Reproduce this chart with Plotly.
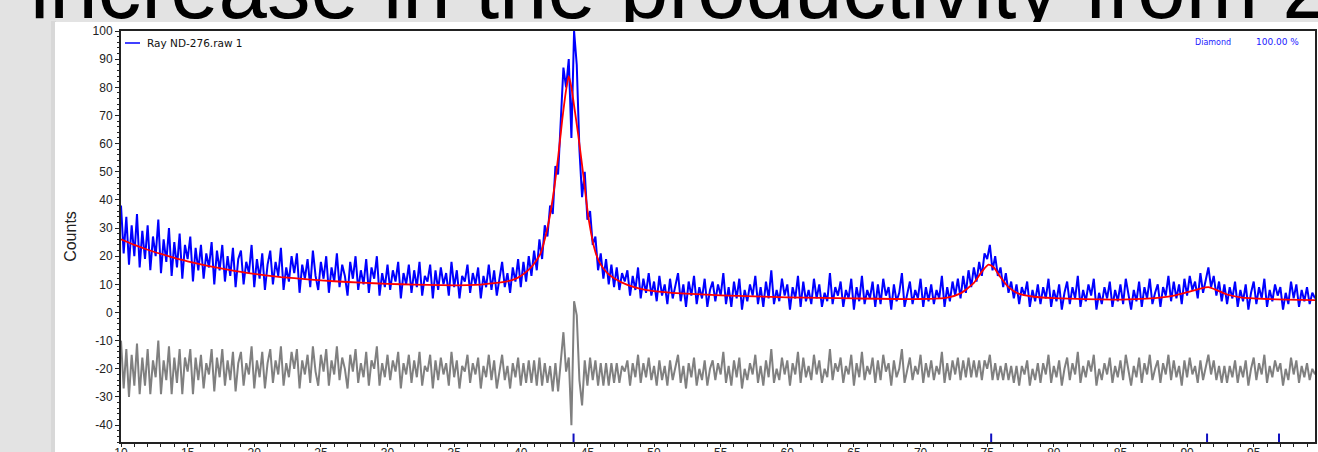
import plotly.graph_objects as go

# ---------------- data ----------------
TITLE = "increase in the productivity from 2"
SERIES_NAME = "Ray ND-276.raw 1"
PHASE_NAME = "Diamond"
PHASE_PCT = "100.00 %"

start_2theta = 10.0
step_2theta = 0.2

# observed counts (blue), one row per degree (10.0, 10.2, ... 10.8)
observed = [
    38, 21, 34, 17, 31,   # 10
    20, 35, 16, 29, 19,   # 11
    31, 15, 27, 20, 33,   # 12
    14, 26, 18, 30, 13,   # 13
    25, 16, 28, 12, 24,   # 14
    19, 27, 11, 23, 15,   # 15
    24, 12, 21, 16, 25,   # 16
    10, 22, 15, 24, 11,   # 17
    20, 13, 23, 9, 19,    # 18
    22, 10, 18, 14, 24,   # 19
    9, 19, 12, 21, 8,     # 20
    17, 22, 10, 18, 13,   # 21
    23, 8, 16, 11, 20,    # 22
    14, 21, 7, 17, 12,    # 23
    19, 9, 22, 13, 8,     # 24
    18, 12, 20, 7, 16,    # 25
    11, 21, 9, 17, 13,    # 26
    6, 18, 12, 20, 8,     # 27
    15, 10, 19, 7, 16,    # 28
    12, 20, 6, 14, 9,     # 29
    17, 8, 15, 11, 18,    # 30
    5, 14, 10, 17, 7,     # 31
    15, 9, 18, 6, 13,     # 32
    11, 17, 5, 15, 8,     # 33
    16, 10, 14, 6, 18,    # 34
    9, 15, 5, 13, 11,     # 35
    17, 7, 14, 10, 16,    # 36
    5, 13, 9, 17, 8,      # 37
    15, 6, 12, 18, 9,     # 38
    14, 7, 16, 11, 19,    # 39
    9, 18, 11, 20, 13,    # 40
    22, 15, 26, 19, 31,   # 41
    27, 38, 35, 52, 49,   # 42
    70, 87, 80, 90, 62,   # 43
    100, 88, 58, 41, 50,  # 44
    33, 36, 24, 27, 15,   # 45
    21, 12, 19, 10, 17,   # 46
    9, 16, 8, 14, 11,     # 47
    15, 6, 13, 8, 16,     # 48
    5, 12, 7, 14, 6,      # 49
    11, 4, 13, 6, 10,     # 50
    3, 12, 5, 9, 14,      # 51
    4, 10, 2, 11, 6,      # 52
    13, 3, 9, 5, 12,      # 53
    2, 8, 11, 4, 10,      # 54
    6, 14, 3, 9, 2,       # 55
    11, 5, 12, 1, 8,      # 56
    4, 10, 6, 13, 3,      # 57
    9, 2, 11, 5, 15,      # 58
    3, 8, 4, 12, 6,       # 59
    10, 1, 9, 5, 13,      # 60
    2, 11, 4, 8, 3,       # 61
    12, 5, 10, 2, 7,      # 62
    4, 14, 3, 9, 6,       # 63
    11, 2, 8, 5, 12,      # 64
    1, 9, 4, 13, 3,       # 65
    8, 5, 11, 2, 10,      # 66
    3, 12, 6, 9, 1,       # 67
    10, 4, 7, 14, 2,      # 68
    6, 11, 3, 8, 5,       # 69
    12, 2, 9, 4, 10,      # 70
    3, 8, 5, 13, 2,       # 71
    9, 4, 11, 6, 12,      # 72
    5, 13, 7, 15, 9,      # 73
    16, 11, 18, 13, 21,   # 74
    19, 24, 15, 20, 13,   # 75
    16, 9, 14, 7, 11,     # 76
    5, 10, 3, 9, 6,       # 77
    11, 2, 8, 4, 10,      # 78
    3, 9, 5, 12, 2,       # 79
    8, 4, 10, 1, 7,       # 80
    11, 3, 9, 5, 13,      # 81
    2, 8, 4, 10, 6,       # 82
    12, 1, 7, 3, 9,       # 83
    5, 11, 2, 8, 4,       # 84
    10, 3, 12, 6, 1,      # 85
    8, 4, 11, 2, 9,       # 86
    5, 12, 3, 7, 10,      # 87
    2, 9, 6, 13, 4,       # 88
    11, 5, 10, 3, 12,     # 89
    6, 13, 8, 11, 5,      # 90
    14, 7, 12, 16, 9,     # 91
    13, 6, 11, 4, 10,     # 92
    3, 9, 5, 11, 2,       # 93
    8, 4, 10, 1, 7,       # 94
    11, 3, 9, 5, 12,      # 95
    2, 8, 4, 10, 6,       # 96
    9, 1, 7, 3, 11,       # 97
    5, 10, 2, 8, 4,       # 98
    9, 3, 7, 5,           # 99
]

# difference curve (grey, offset below the pattern), same 2theta grid
difference = [
    -10, -27, -13, -30, -15,  # 10
    -26, -11, -29, -16, -26,  # 11
    -13, -29, -17, -23, -10,  # 12
    -29, -17, -24, -12, -29,  # 13
    -16, -25, -13, -29, -16,  # 14
    -21, -13, -29, -16, -24,  # 15
    -15, -27, -18, -22, -13,  # 16
    -28, -16, -23, -13, -26,  # 17
    -17, -24, -14, -28, -18,  # 18
    -14, -26, -18, -22, -12,  # 19
    -27, -17, -23, -14, -27,  # 20
    -18, -13, -25, -17, -22,  # 21
    -12, -26, -18, -23, -14,  # 22
    -20, -13, -27, -17, -22,  # 23
    -15, -25, -12, -21, -26,  # 24
    -15, -21, -13, -26, -17,  # 25
    -22, -12, -24, -16, -20,  # 26
    -27, -15, -21, -13, -25,  # 27
    -18, -23, -14, -26, -17,  # 28
    -20, -12, -26, -18, -23,  # 29
    -15, -24, -17, -21, -14,  # 30
    -27, -18, -22, -15, -25,  # 31
    -17, -23, -14, -26, -19,  # 32
    -21, -15, -27, -17, -24,  # 33
    -16, -22, -18, -26, -14,  # 34
    -23, -17, -27, -19, -21,  # 35
    -15, -25, -18, -22, -16,  # 36
    -27, -19, -23, -15, -24,  # 37
    -17, -27, -21, -15, -24,  # 38
    -19, -27, -18, -23, -16,  # 39
    -26, -18, -25, -17, -25,  # 40
    -17, -26, -16, -26, -18,  # 41
    -25, -19, -28, -18, -28,  # 42
    -16, -7, -21, -16, -40,   # 43
    4, -1, -24, -33, -17,     # 44
    -26, -16, -24, -17, -26,  # 45
    -18, -26, -18, -26, -18,  # 46
    -25, -18, -25, -19, -21,  # 47
    -17, -26, -18, -23, -15,  # 48
    -25, -18, -23, -16, -24,  # 49
    -19, -26, -17, -24, -19,  # 50
    -26, -17, -24, -20, -15,  # 51
    -25, -19, -27, -18, -23,  # 52
    -16, -26, -20, -24, -17,  # 53
    -26, -20, -17, -24, -18,  # 54
    -22, -14, -25, -19, -26,  # 55
    -17, -23, -16, -27, -20,  # 56
    -24, -18, -22, -15, -25,  # 57
    -19, -26, -17, -23, -13,  # 58
    -25, -20, -24, -16, -22,  # 59
    -17, -26, -18, -22, -14,  # 60
    -25, -16, -23, -19, -24,  # 61
    -15, -22, -17, -25, -20,  # 62
    -23, -13, -24, -18, -21,  # 63
    -16, -25, -19, -22, -15,  # 64
    -26, -18, -23, -14, -24,  # 65
    -19, -22, -16, -25, -17,  # 66
    -24, -15, -21, -18, -26,  # 67
    -17, -23, -20, -13, -25,  # 68
    -21, -16, -24, -19, -22,  # 69
    -15, -25, -18, -23, -17,  # 70
    -24, -19, -22, -14, -25,  # 71
    -18, -24, -17, -22, -16,  # 72
    -24, -17, -23, -16, -23,  # 73
    -17, -23, -17, -24, -17,  # 74
    -20, -15, -24, -18, -24,  # 75
    -19, -24, -18, -24, -19,  # 76
    -25, -19, -26, -19, -22,  # 77
    -17, -26, -20, -24, -18,  # 78
    -25, -18, -22, -15, -25,  # 79
    -19, -23, -17, -26, -20,  # 80
    -16, -24, -18, -22, -14,  # 81
    -25, -19, -23, -17, -21,  # 82
    -15, -26, -20, -24, -18,  # 83
    -22, -16, -25, -19, -23,  # 84
    -17, -24, -15, -21, -26,  # 85
    -19, -23, -16, -25, -18,  # 86
    -22, -15, -24, -20, -17,  # 87
    -25, -18, -22, -15, -24,  # 88
    -17, -23, -19, -26, -17,  # 89
    -23, -16, -22, -19, -25,  # 90
    -17, -24, -19, -15, -22,  # 91
    -17, -24, -19, -25, -19,  # 92
    -25, -19, -23, -17, -25,  # 93
    -19, -23, -17, -26, -20,  # 94
    -16, -24, -18, -22, -15,  # 95
    -25, -19, -23, -17, -21,  # 96
    -18, -26, -20, -24, -16,  # 97
    -22, -17, -25, -19, -23,  # 98
    -18, -24, -20, -22,       # 99
]

# calculated (fitted) profile, red
fit_2theta = [10, 11, 12, 13, 14, 15, 16, 17, 18, 19, 20, 22, 24, 26, 28, 30, 32, 34, 36,
              37, 38, 39, 39.5, 40, 40.5, 41, 41.5, 42,
              42.4, 42.8, 43.1, 43.4, 43.6, 43.8, 44.0, 44.3, 44.7, 45.1, 45.6, 46.0, 46.5, 47,
              48, 49, 50, 52, 55, 60, 65, 70,
              72, 73, 74, 74.6, 75.1, 75.5, 76, 76.6, 77.3, 78.5, 80,
              85, 87, 89, 90, 91, 91.6, 92.3, 93, 94, 96, 99.6]
fit_counts = [26, 24, 22.3, 20.8, 19.4, 18.2, 17.1, 16.1, 15.2, 14.4, 13.7, 12.6, 11.8, 11.1, 10.6, 10.2, 9.9, 9.7, 9.7,
              9.9, 10.4, 11.1, 11.8, 13, 14.8, 17.3, 21.2, 30,
              40.5, 55, 68, 79, 84, 80, 73.5, 63.5, 48.5, 33, 21.5, 17, 14, 12.2,
              9.8, 8.4, 7.6, 6.8, 6.1, 5.4, 5.0, 4.8,
              5.3, 6.8, 10.5, 14.5, 17, 16, 12.5, 9, 6.8, 5.6, 5.1,
              4.6, 4.9, 6, 7.2, 8.5, 9, 7.8, 6.4, 5.4, 4.8, 4.4]

# reference peak markers (blue sticks at the bottom)
ref_peaks = [43.96, 75.3, 91.5, 96.9]

x_ticks = list(range(10, 101, 5))
y_ticks = list(range(-40, 101, 10))
y_range = [-46, 100]
x_range = [10, 99.6]

# ---------------- figure ----------------
W, H = 1318, 452
def px(x):
    return x / W
def py(y):
    return 1 - y / H

two_theta = [round(start_2theta + step_2theta * i, 1) for i in range(len(observed))]

fig = go.Figure()
fig.add_trace(go.Scatter(x=two_theta, y=observed, mode="lines",
                         line=dict(color="#0000ff", width=2.0), hoverinfo="skip"))
fig.add_trace(go.Scatter(x=two_theta, y=difference, mode="lines",
                         line=dict(color="#808080", width=2.0), hoverinfo="skip"))
fig.add_trace(go.Scatter(x=fit_2theta, y=fit_counts, mode="lines",
                         line=dict(color="#ff0000", width=1.8, shape="spline", smoothing=0.6),
                         hoverinfo="skip"))
rx, ry = [], []
for p in ref_peaks:
    rx += [p, p, None]
    ry += [y_range[0], y_range[0] + 3, None]
fig.add_trace(go.Scatter(x=rx, y=ry, mode="lines", line=dict(color="#1010c0", width=2),
                         hoverinfo="skip"))

# slide title text, clipped by a thin invisible strip at the top
fig.add_trace(go.Scatter(x=[30], y=[39.5], mode="text", text=[TITLE],
                         textposition="top right", cliponaxis=True,
                         textfont=dict(family="Liberation Sans, Arial", size=87, color="black"),
                         xaxis="x2", yaxis="y2", hoverinfo="skip"))

fig.update_layout(
    width=W, height=H,
    margin=dict(l=0, r=0, t=0, b=0),
    paper_bgcolor="#e3e3e3",
    plot_bgcolor="rgba(0,0,0,0)",
    showlegend=False,
    font=dict(family="Liberation Sans, Arial", color="#222222"),
    xaxis=dict(domain=[px(121), px(1315)], range=x_range, tickvals=x_ticks,
               ticktext=[str(v) for v in x_ticks],
               ticks="outside", ticklen=3, tickwidth=1, tickcolor="#222",
               ticklabelstandoff=-4,
               minor=dict(dtick=1, ticklen=3, ticks="outside", tickcolor="#222"),
               showline=True, linewidth=2, linecolor="#222", mirror=True,
               showgrid=False, zeroline=False, tickfont=dict(size=12),
               automargin=False, anchor="y"),
    yaxis=dict(domain=[py(442), py(31)], range=y_range, tickvals=y_ticks,
               ticktext=[str(v) for v in y_ticks],
               ticks="outside", ticklen=4, tickwidth=1, tickcolor="#222",
               minor=dict(dtick=2, ticklen=2, ticks="outside", tickcolor="#222"),
               showline=True, linewidth=2, linecolor="#222", mirror=True,
               showgrid=False, zeroline=False, tickfont=dict(size=12),
               title=dict(text="Counts", font=dict(size=16), standoff=12),
               automargin=False, anchor="x"),
    xaxis2=dict(domain=[0, 1], range=[0, W], visible=False, anchor="y2"),
    yaxis2=dict(domain=[py(22), 1], range=[22, 0], visible=False, anchor="x2"),
    shapes=[
        dict(type="rect", xref="paper", yref="paper", x0=px(51), x1=px(56), y0=0, y1=py(21),
             fillcolor="#d8d8d8", line=dict(width=0), layer="below"),
        dict(type="rect", xref="paper", yref="paper", x0=px(55), x1=1, y0=0, y1=py(22),
             fillcolor="white", line=dict(width=0), layer="below"),
        dict(type="line", xref="paper", yref="paper", x0=px(125), x1=px(140),
             y0=py(43), y1=py(43), line=dict(color="#0000ff", width=1.5)),
    ],
    annotations=[
        dict(text=SERIES_NAME, x=px(145), y=py(43), xref="paper", yref="paper",
             xanchor="left", yanchor="middle", showarrow=False,
             font=dict(family="DejaVu Sans", size=10.5, color="#111")),
        dict(text=PHASE_NAME, x=px(1193), y=py(42), xref="paper", yref="paper",
             xanchor="left", yanchor="middle", showarrow=False,
             font=dict(family="DejaVu Sans", size=8, color="#1a1aff")),
        dict(text=PHASE_PCT, x=px(1301), y=py(42), xref="paper", yref="paper",
             xanchor="right", yanchor="middle", showarrow=False,
             font=dict(family="DejaVu Sans", size=9, color="#1a1aff")),
    ],
)

fig.write_html("out.html", config={"displayModeBar": False},
               post_script="document.body.style.margin='0';document.body.style.overflow='hidden';")
